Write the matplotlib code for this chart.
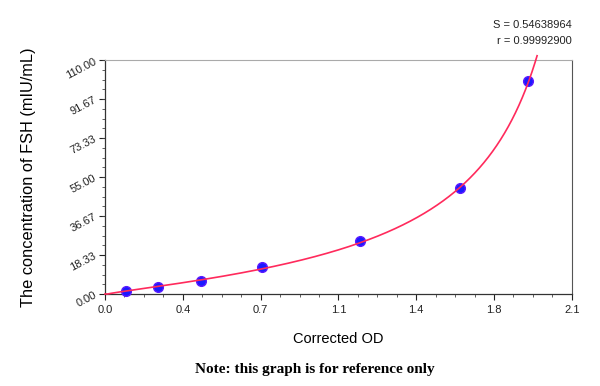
import numpy as np
import matplotlib
matplotlib.use("Agg")
import matplotlib.pyplot as plt
from matplotlib.ticker import AutoMinorLocator

# standard points (corrected OD vs concentration)
od = [0.094, 0.240, 0.430, 0.706, 1.147, 1.598, 1.905]
conc = [1.56, 3.13, 6.25, 12.5, 25.0, 50.0, 100.0]

x_ticks = [0.0, 0.35, 0.70, 1.05, 1.40, 1.75, 2.10]
x_labels = ['0.0', '0.4', '0.7', '1.1', '1.4', '1.8', '2.1']
y_ticks = [0.0, 18.33, 36.67, 55.0, 73.33, 91.67, 110.0]
y_labels = ['0.00', '18.33', '36.67', '55.00', '73.33', '91.67', '110.00']

s_value = 'S = 0.54638964'
r_value = 'r = 0.99992900'


def fit_curve(x, y):
    # inverse logistic: conc = C*((x-A)/(D-x))^p, grid over A,D, log-linear fit for C,p
    x = np.asarray(x)
    y = np.asarray(y)
    best = None
    for A in np.linspace(-0.08, 0.08, 41):
        for D in np.linspace(1.93, 3.5, 315):
            u = np.log((x - A) / (D - x))
            p, lc = np.polyfit(u, np.log(y), 1)
            pred = np.exp(lc) * ((x - A) / (D - x)) ** p
            err = np.sum((pred - y) ** 2)
            if best is None or err < best[0]:
                best = (err, A, D, p, lc)
    return best[1:]


A, D, p, lc = fit_curve(od, conc)
xs = np.linspace(max(A, 0.0) + 1e-6, D - 1e-6, 4000)
ys = np.exp(lc) * ((xs - A) / (D - xs)) ** p
keep = ys <= 112
xs = np.concatenate([[0.0], xs[keep]])
ys = np.concatenate([[0.0], ys[keep]])

plt.rcParams['font.family'] = ['Liberation Sans', 'DejaVu Sans']

fig = plt.figure(figsize=(6.0, 3.86), dpi=100)
ax = fig.add_axes([0.175, 0.2383, 0.778, 0.6063])

ax.plot(od, conc, 'o', color='#1a1aff', markersize=7, markeredgecolor='#5a1aff',
        zorder=3, clip_on=False)
ax.plot(xs, ys, '-', color='#ff2a5c', lw=1.2, zorder=4, clip_on=False)

ax.set_xlim(0, 2.1)
ax.set_ylim(0, 110)
ax.set_xticks(x_ticks)
ax.set_xticklabels(x_labels)
ax.set_yticks(y_ticks)
ax.set_yticklabels(y_labels, rotation=28)
ax.xaxis.set_minor_locator(AutoMinorLocator(4))
ax.yaxis.set_minor_locator(AutoMinorLocator(4))
ax.tick_params(which='major', direction='out', length=4, width=0.8, labelsize=8,
               colors='#222222')
ax.tick_params(which='minor', direction='out', length=2, width=0.6, colors='#444444')
ax.tick_params(axis='x', pad=4)
ax.tick_params(axis='y', pad=1)

for side in ['left', 'bottom']:
    ax.spines[side].set_color('#333333')
    ax.spines[side].set_linewidth(0.9)
ax.spines['top'].set_color('#aaaaaa')
ax.spines['right'].set_color('#555555')

ax.set_xlabel('Corrected OD', fontsize=10.5, labelpad=12)
ax.set_ylabel('The concentration of FSH (mIU/mL)', fontsize=11.8, labelpad=20)

fig.text(0.953, 0.935, s_value, ha='right', va='center', fontsize=8, color='#222222')
fig.text(0.953, 0.893, r_value, ha='right', va='center', fontsize=8, color='#222222')
fig.text(0.525, 0.042, 'Note: this graph is for reference only', ha='center', va='center',
         fontsize=11, fontweight='bold', family=['Liberation Serif', 'DejaVu Serif'])

fig.savefig('out.png', dpi=100)
